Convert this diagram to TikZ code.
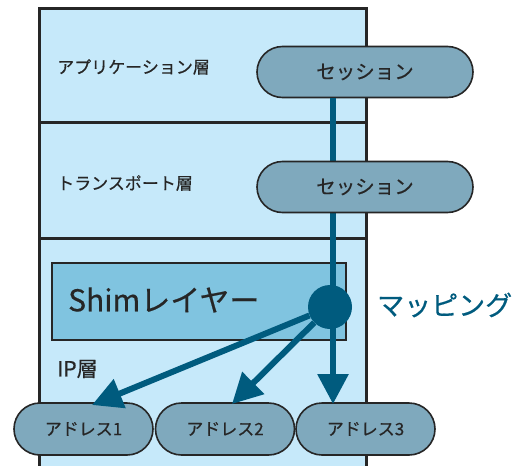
\documentclass[tikz,border=0pt]{standalone}
\usepackage{fontspec}
\setmainfont{Noto Sans CJK JP}[FakeBold=0.5]
\usetikzlibrary{arrows.meta,shapes.misc}
\definecolor{bgblue}{HTML}{C6E9FA}
\definecolor{pillc}{HTML}{7FA9BD}
\definecolor{shimc}{HTML}{80C4E0}
\definecolor{darkc}{HTML}{005B7E}
\definecolor{edgec}{HTML}{262626}
\tikzset{
  pill/.style={rounded rectangle, draw=edgec, line width=1.6pt, fill=pillc, text=edgec, inner sep=0pt},
  sess/.style={pill, minimum width=216pt, minimum height=51pt, font=\fontsize{19.5}{19.5}\selectfont},
  addr/.style={pill, minimum width=139pt, minimum height=52pt, font=\fontsize{17}{17}\selectfont},
  layertxt/.style={anchor=west, text=edgec, inner sep=0pt, font=\fontsize{17}{17}\selectfont},
  arr/.style={draw=darkc, line width=6pt, -{Triangle[length=30pt,width=30pt]}},
}
\begin{document}
\begin{tikzpicture}[x=1pt,y=-1pt]
\useasboundingbox (0,0) rectangle (517,466);
% stack background
\fill[bgblue] (39,8) rectangle (366,466);
\draw[edgec, line width=3pt] (39,466) -- (39,8) -- (366,8) -- (366,466);
\draw[edgec, line width=3pt] (39,122) -- (366,122);
\draw[edgec, line width=3pt] (39,238) -- (366,238);
% layer labels
\node[layertxt] (app) at (57,67) {アプリケーション層};
\node[layertxt] (tra) at (57,183) {トランスポート層};
\node[layertxt, font=\fontsize{21}{21}\selectfont] (ip) at (57,369) {IP層};
% shim box
\node[draw=edgec, line width=2.5pt, fill=shimc, minimum width=294pt, minimum height=77pt, inner sep=0pt] (shim) at (199,301.5) {};
\node[anchor=west, inner sep=0pt, text=edgec, font=\fontsize{30}{30}\selectfont] (shimtxt) at (68,300) {Shimレイヤー};
% addresses
\node[addr] (a1) at (83.5,429) {アドレス1};
\node[addr] (a2) at (225,429) {アドレス2};
\node[addr] (a3) at (365.5,429) {アドレス3};
% sessions
\node[sess] (s1) at (365,72) {セッション};
\coordinate (top3) at (333,98);
\coordinate (t1) at (92,405);
\coordinate (t2) at (232,404);
\coordinate (t3) at (333,404);
\draw[arr] (top3) -- (t3);
\node[sess] (s2) at (365,187) {セッション};
% mapping point
\node[circle, fill=darkc, minimum size=44pt, inner sep=0pt] (map) at (330,307) {};
\draw[arr] (map) -- (t1);
\draw[arr] (map) -- (t2);
\node[anchor=west, inner sep=0pt, text=darkc, font=\fontsize{27}{27}\selectfont] (maptxt) at (377,305) {マッピング};
\end{tikzpicture}
\end{document}
